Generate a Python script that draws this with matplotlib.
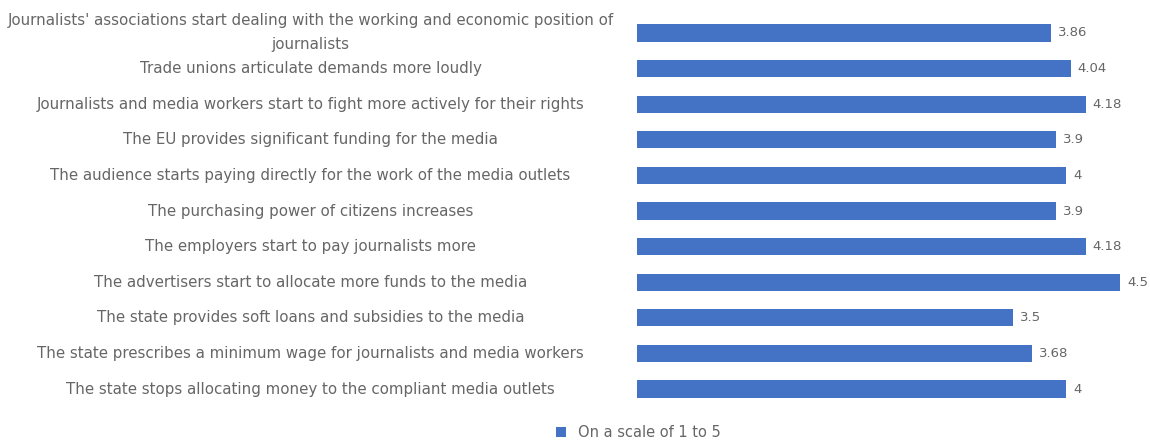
import matplotlib.pyplot as plt

# Statements, top to bottom as shown, with mean scores
labels = [
    "Journalists' associations start dealing with the working and economic position of\njournalists",
    "Trade unions articulate demands more loudly",
    "Journalists and media workers start to fight more actively for their rights",
    "The EU provides significant funding for the media",
    "The audience starts paying directly for the work of the media outlets",
    "The purchasing power of citizens increases",
    "The employers start to pay journalists more",
    "The advertisers start to allocate more funds to the media",
    "The state provides soft loans and subsidies to the media",
    "The state prescribes a minimum wage for journalists and media workers",
    "The state stops allocating money to the compliant media outlets",
]
values = [3.86, 4.04, 4.18, 3.9, 4, 3.9, 4.18, 4.5, 3.5, 3.68, 4]
value_text = ["3.86", "4.04", "4.18", "3.9", "4", "3.9", "4.18", "4.5", "3.5", "3.68", "4"]
series_name = "On a scale of 1 to 5"

plt.rcParams["font.family"] = ["DejaVu Sans"]
text_color = "#666666"
bar_color = "#4472C4"

fig = plt.figure(figsize=(11.5, 4.43), dpi=100)
ax = fig.add_axes([637 / 1150, 0.0817, 1 - 637 / 1150, 0.884])

ypos = list(range(len(values)))[::-1]
bars = ax.barh(ypos, values, height=0.48, color=bar_color, label=series_name)

for b, t in zip(bars, value_text):
    ax.annotate(t, (b.get_width(), b.get_y() + b.get_height() / 2),
                xytext=(5, 0), textcoords="offset points",
                va="center", ha="left", fontsize=9.5, color=text_color)

ax.set_xlim(0, 4.78)
ax.set_ylim(-0.5, len(values) - 0.5)
ax.set_xticks([])
ax.set_yticks(ypos)
ax.set_yticklabels(labels, ha="center", va="center", fontsize=10.8,
                   color=text_color, linespacing=1.75)
ax.tick_params(axis="y", length=0, pad=235)
for s in ax.spines.values():
    s.set_visible(False)

fig.legend(handles=[bars], labels=[series_name], loc="center left",
           bbox_to_anchor=(556 / 1150, 0.0226), frameon=False, fontsize=10.5,
           borderpad=0, borderaxespad=0,
           handlelength=0.7, handleheight=0.7, handletextpad=0.8,
           labelcolor=text_color)

fig.savefig("out.png", dpi=100)
